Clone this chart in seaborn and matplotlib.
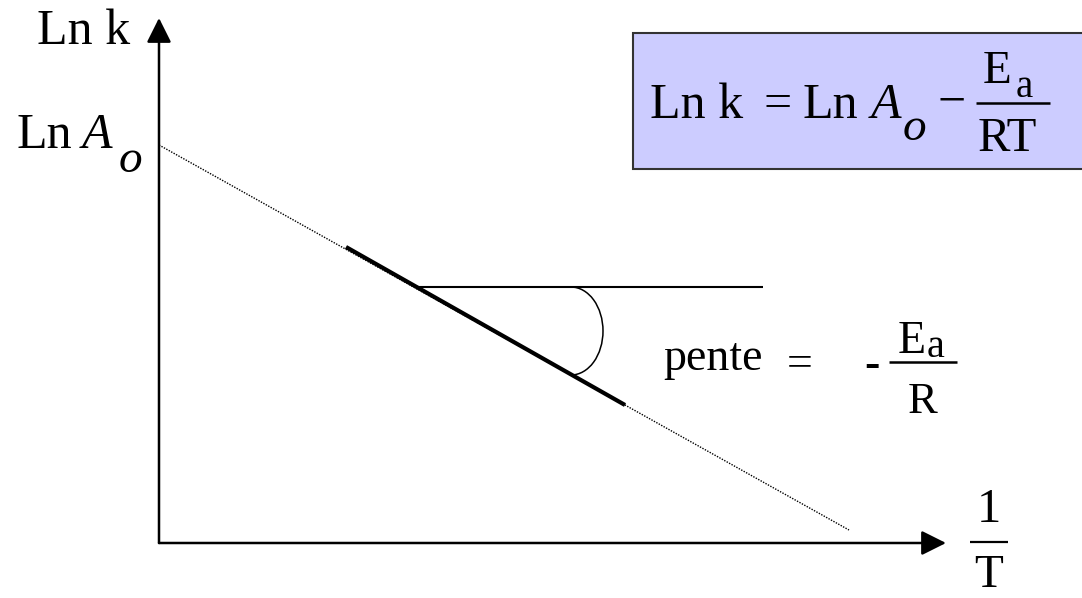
import matplotlib
matplotlib.use("Agg")
import matplotlib.pyplot as plt
from matplotlib.patches import Arc, Rectangle
import seaborn as sns
import pandas as pd

# ---------------- data (schematic units, 1/T on x, Ln k on y) ----------------
inv_T_dotted = [0, 690]          # full Arrhenius line (dotted)
ln_k_dotted = [398, 13]
inv_T_measured = [187, 466]      # measured range (thick segment)
ln_k_measured = [296, 138]
inv_T_tangent = [258, 604]       # horizontal reference line
ln_k_tangent = [256, 256]
x_axis_end = 787
y_axis_end = 525

# ---------------- theme ----------------
sns.set_theme(style="white")
plt.rcParams["font.family"] = ["Liberation Serif", "DejaVu Serif"]
plt.rcParams["text.color"] = "black"

W, H = 1082, 598
fig = plt.figure(figsize=(W / 100, H / 100), dpi=100)
ax = fig.add_axes([0, 0, 1, 1])
ox, oy = 159, 543               # pixel position of the origin


def P(px, py):
    """pixel position -> data position (layout helper for text)"""
    return px - ox, oy - py


# lines via seaborn
df_dot = pd.DataFrame({"x": inv_T_dotted, "y": ln_k_dotted})
df_seg = pd.DataFrame({"x": inv_T_measured, "y": ln_k_measured})
df_tan = pd.DataFrame({"x": inv_T_tangent, "y": ln_k_tangent})
sns.lineplot(data=df_dot, x="x", y="y", ax=ax, color="black", lw=1.0,
             linestyle=(0, (1, 1)), sort=False)
sns.lineplot(data=df_seg, x="x", y="y", ax=ax, color="black", lw=3.0,
             sort=False, solid_capstyle="butt")
sns.lineplot(data=df_tan, x="x", y="y", ax=ax, color="black", lw=1.5,
             sort=False, solid_capstyle="butt")
ax.set_xlim(-ox, W - ox)
ax.set_ylim(oy - H, oy)
ax.set_axis_off()

# angle arc
ax.add_patch(Arc((412, 212), 64, 88, theta1=-90, theta2=90,
                 color="black", lw=1.1))

# axes arrows
arrow = dict(arrowstyle="-|>,head_length=0.75,head_width=0.375",
             mutation_scale=20, color="black", lw=1.8,
             shrinkA=0, shrinkB=0)
ax.annotate("", xy=(x_axis_end, 0), xytext=(0, 0), arrowprops=arrow)
ax.annotate("", xy=(0, y_axis_end), xytext=(0, 0), arrowprops=arrow)

# axis labels
ax.text(*P(37, 44), "Ln k", fontsize=36, ha="left", va="baseline")
ax.text(*P(16, 148), "Ln", fontsize=36, ha="left", va="baseline")
ax.text(*P(82, 148), "A", fontsize=36, ha="left", va="baseline", style="italic")
ax.text(*P(119, 172), "o", fontsize=34, ha="left", va="baseline", style="italic")

# 1/T label
ax.text(*P(989, 522), "1", fontsize=35, ha="center", va="baseline")
ax.plot(*zip(P(970, 542), P(1008, 542)), color="black", lw=1.6,
        solid_capstyle="butt")
ax.text(*P(989, 587), "T", fontsize=34, ha="center", va="baseline")

# equation box
bx, by = P(633, 169)
ax.add_patch(Rectangle((bx, by), 470, 136, facecolor="#CCCCFF",
                       edgecolor="#333333", lw=1.5, zorder=1))
ax.text(*P(650, 118), "Ln k", fontsize=36, ha="left", va="baseline", zorder=3)
ax.text(*P(778, 117), "=", fontsize=36, ha="center", va="baseline", zorder=3)
ax.text(*P(803, 118), "Ln", fontsize=36, ha="left", va="baseline", zorder=3)
ax.text(*P(871, 118), "A", fontsize=36, ha="left", va="baseline",
        style="italic", zorder=3)
ax.text(*P(903, 140), "o", fontsize=34, ha="left", va="baseline",
        style="italic", zorder=3)
ax.text(*P(952, 116), "\u2212", fontsize=36, ha="center", va="baseline", zorder=3)
ax.text(*P(983, 83), "E", fontsize=34, ha="left", va="baseline", zorder=3)
ax.text(*P(1016, 97), "a", fontsize=28, ha="left", va="baseline", zorder=3)
ax.plot(*zip(P(976, 103), P(1050, 103)), color="black", lw=1.8,
        solid_capstyle="butt", zorder=3)
ax.text(*P(1007, 151), "RT", fontsize=35, ha="center", va="baseline", zorder=3)

# slope annotation
ax.text(*P(663, 370), "pente", fontsize=33, ha="left", va="baseline")
ax.text(*P(800, 376), "=", fontsize=33, ha="center", va="baseline")
ax.text(*P(872, 377), "-", fontsize=33, ha="center", va="baseline")
ax.text(*P(898, 353), "E", fontsize=33, ha="left", va="baseline")
ax.text(*P(927, 357), "a", fontsize=29, ha="left", va="baseline")
ax.plot(*zip(P(889, 362), P(957, 362)), color="black", lw=1.8,
        solid_capstyle="butt")
ax.text(*P(923, 413), "R", fontsize=32, ha="center", va="baseline")

fig.savefig("out.png", dpi=100)
